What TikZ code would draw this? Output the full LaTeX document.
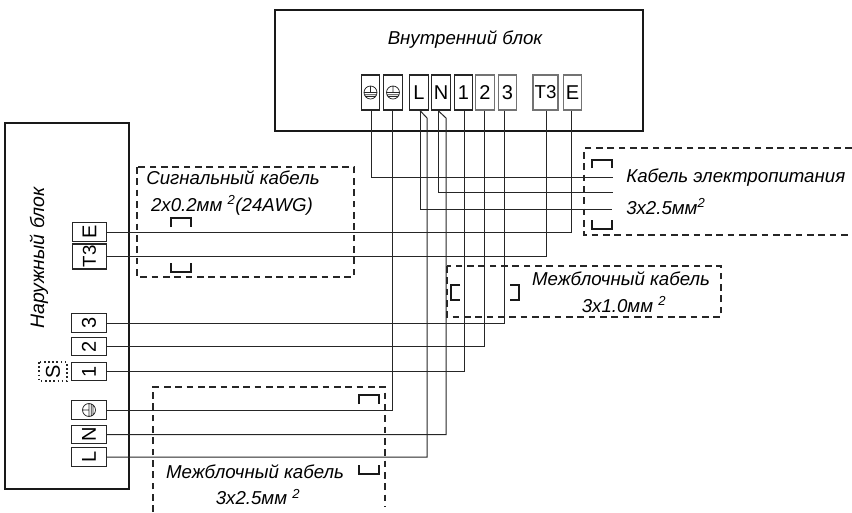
\documentclass[tikz,border=0pt]{standalone}
\usepackage{fontspec}
\setmainfont{Liberation Sans}
\usetikzlibrary{positioning, calc}

\newcommand{\earthmark}[1]{%
    \draw[earthline, rotate=#1] (0,0) circle (6.5) (0,-6.5) -- (0,0) (-6.5,0) -- (6.5,0)
        (-5.5,2.2) -- (5.5,2.2) (-4.5,4) -- (4.5,4);}

\begin{document}
\begin{tikzpicture}[
        x=0.75pt, y=-0.75pt,
        font=\itshape\fontsize{14}{16}\selectfont,
        frame/.style={draw=black!90, line width=1.7pt},
        termtop/.style={draw=black!85, line width=0.9pt, inner sep=0, minimum width=14pt, minimum height=26.2pt, font=\fontsize{15}{17}\selectfont},
        termside/.style={draw=black!85, line width=0.9pt, inner sep=0, minimum width=14pt, minimum height=26pt, rotate=90, font=\fontsize{15}{17}\selectfont},
        wire/.style={draw=black!85, line width=0.75pt},
        dashbox/.style={draw=black!85, line width=1pt, dash pattern=on 5pt off 3.5pt},
        clamp/.style={draw=black!90, line width=1.6pt},
        earthline/.style={draw=black!85, line width=0.55pt},
        label/.style={inner sep=0},
    ]
    \useasboundingbox (0,0) rectangle (852,512);

    % Units
    \draw[frame] (275,10) rectangle (643,131);
    \draw[frame] (5,123) rectangle (129,489);
    \node[label] (indoor) at (465,40) {Внутренний блок};
    \node[label, rotate=90, font=\itshape\fontsize{14.6}{16}\selectfont] (outdoor) at (39,258) {Наружный блок};

    % Indoor terminals
    \node[termtop] (inA) at (370.5,92.5) {};
    \node[termtop] (inB) at (393,92.5) {};
    \node[termtop] (inL) at (419,92.5) {L};
    \node[termtop] (inN) at (441,92.5) {N};
    \node[termtop] (inI) at (463.5,92.5) {1};
    \node[termtop, draw=black!55] (inII) at (485,92.5) {2};
    \node[termtop, draw=black!55] (inIII) at (507.5,92.5) {3};
    \node[termtop, draw=black!55, minimum width=18.7pt, font=\fontsize{14}{16}\selectfont] (inT) at (545.5,92.5) {T3};
    \node[termtop, draw=black!55] (inE) at (572.5,92.5) {E};
    \begin{scope}[shift={(370.5,92.5)}] \earthmark{0} \end{scope}
    \begin{scope}[shift={(393,92.5)}] \earthmark{0} \end{scope}

    % Outdoor terminals
    \node[termside] (outE) at (89.5,232) {E};
    \node[termside, minimum width=18.7pt, font=\fontsize{14}{16}\selectfont] (outT) at (89.5,256.5) {T3};
    \node[termside] (outIII) at (89,323) {3};
    \node[termside] (outII) at (89,346.5) {2};
    \node[termside] (outI) at (89,371.5) {1};
    \node[termside] (outA) at (89,410) {};
    \node[termside] (outN) at (89,434.5) {N};
    \node[termside] (outL) at (89,457) {L};
    \node[draw=black!85, dotted, line width=1.1pt, inner sep=0, minimum width=14pt, minimum height=21pt, rotate=90, font=\fontsize{15}{17}\selectfont] (sw) at (53,371.5) {S};
    \begin{scope}[shift={(89,410)}] \earthmark{90} \end{scope}

    % Wires
    \coordinate (endA) at (613,177);
    \coordinate (endN) at (613,192);
    \coordinate (endL) at (612,209);
    \coordinate (kinkL) at (427,118);
    \coordinate (kinkN) at (446,118);
    \draw[wire] ([xshift=1.1pt]inA.south) |- (endA);
    \draw[wire] ([xshift=-0.75pt]inB.south) |- (outA.south);
    \draw[wire] ([xshift=0.75pt]inL.south) |- (endL);
    \draw[wire] ([xshift=0.75pt]inL.south) -- (kinkL) |- (outL.south);
    \draw[wire] ([xshift=-2.2pt]inN.south) |- (endN);
    \draw[wire] ([xshift=-2.2pt]inN.south) -- (kinkN) |- (outN.south);
    \draw[wire] ([xshift=1.1pt]inI.south) |- (outI.south);
    \draw[wire] ([xshift=-0.75pt]inII.south) |- (outII.south);
    \draw[wire] ([xshift=-2.6pt]inIII.south) |- (outIII.south);
    \draw[wire] ([xshift=1.1pt]inT.south) |- (outT.south);
    \draw[wire] ([xshift=-0.4pt]inE.south) |- (outE.south);

    % Cable boxes
    \draw[dashbox] (137,167) rectangle (354,277);
    \draw[dashbox] (852,148) -- (584,148) -- (584,235) -- (852,235);
    \draw[dashbox] (447,266) rectangle (721,317);
    \draw[dashbox] (153,512) -- (153,387) -- (385,387) -- (385,507);

    % Clamps
    \draw[clamp] (171,227) -- (171,218) -- (191,218) -- (191,227);
    \draw[clamp] (171,263) -- (171,272) -- (191,272) -- (191,263);
    \draw[clamp] (592,168) -- (592,160) -- (612,160) -- (612,168);
    \draw[clamp] (592,220) -- (592,229) -- (612,229) -- (612,220);
    \draw[clamp] (460,285) -- (451,285) -- (451,300) -- (460,300);
    \draw[clamp] (510,285) -- (519,285) -- (519,300) -- (510,300);
    \draw[clamp] (359,404) -- (359,395) -- (379,395) -- (379,404);
    \draw[clamp] (359,465) -- (359,474) -- (379,474) -- (379,465);

    % Cable labels
    \node[label] (signal) at (233,178) {Сигнальный кабель};
    \node[label] (signalsize) at (232,205) {2x0.2мм \textsuperscript{2}(24AWG)};
    \node[label, anchor=west] (power) at (626,178) {Кабель электропитания};
    \node[label, anchor=west] (powersize) at (626,207) {3x2.5мм\textsuperscript{2}};
    \node[label] (link) at (621,279) {Межблочный кабель};
    \node[label] (linksize) at (624,305) {3x1.0мм \textsuperscript{2}};
    \node[label] (main) at (255,472) {Межблочный кабель};
    \node[label] (mainsize) at (258,497) {3x2.5мм \textsuperscript{2}};

    \end{tikzpicture}
\end{document}
